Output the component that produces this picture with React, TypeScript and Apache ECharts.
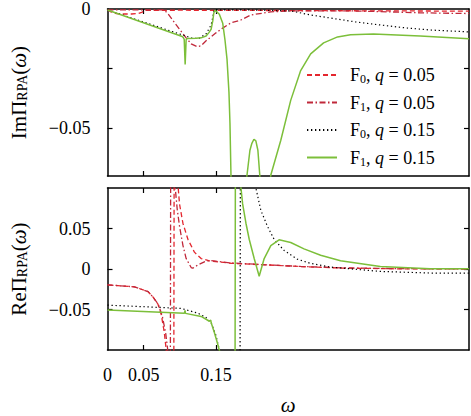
import { useEffect, useRef } from 'react';
import * as echarts from 'echarts';

const FONT = '"Liberation Serif", "DejaVu Serif", serif';

// axis ranges and tick values
const xMin = 0;
const xMax = 0.5;
const xTickValues = [0.05, 0.15];
const xLabelValues = [0, 0.05, 0.15];
const imMin = -0.07;
const imMax = 0;
const imTickValues = [-0.025, -0.05];
const imLabelValues = [0, -0.05];
const reMin = -0.1;
const reMax = 0.1;
const reTickValues = [0.05, 0, -0.05];
const reLabelValues = [0.05, 0, -0.05];

// legend entries: [F index, q]
const seriesNames = ['F0q005', 'F1q005', 'F0q015', 'F1q015'];
const seriesF = ['0', '1', '0', '1'];
const seriesQ = ['0.05', '0.05', '0.15', '0.15'];

// Im Pi_RPA(omega)
const imF0q005 = [
  [0, -0.0004], [0.0055, -0.0013], [0.0124, -0.0019], [0.0193, -0.0021], [0.0331, -0.0021],
  [0.0427, -0.0019], [0.0482, -0.0013], [0.051, -0.0006], [0.1, -0.0005], [0.2, -0.0006],
  [0.3, -0.0007], [0.4, -0.0008], [0.5, -0.0009],
];
const imF1q005 = [
  [0, -0.0004], [0.0785, -0.0004], [0.084, -0.0021], [0.0909, -0.005], [0.0992, -0.0083],
  [0.1088, -0.0121], [0.1157, -0.0146], [0.124, -0.0158], [0.1295, -0.0154], [0.1364, -0.0133],
  [0.1433, -0.0117], [0.1501, -0.01], [0.1598, -0.0079], [0.1708, -0.0058], [0.1846, -0.0046],
  [0.1983, -0.0025], [0.2259, -0.0012], [0.2534, -0.0008], [0.3361, -0.0008], [0.3774, -0.0011],
  [0.4325, -0.0016], [0.5, -0.0019],
];
const imF0q015 = [
  [0, -0.0004], [0.1157, -0.0121], [0.1185, -0.0123], [0.1267, -0.0123], [0.1364, -0.0104],
  [0.1433, -0.0067], [0.146, -0.0029], [0.1474, -0.0004], [0.1983, -0.0004], [0.2534, -0.0008],
  [0.281, -0.0025], [0.3085, -0.0038], [0.343, -0.0054], [0.3774, -0.0067], [0.4118, -0.0079],
  [0.4463, -0.0088], [0.5, -0.0096],
];
const imF1q015 = [
  [0, -0.0004], [0.1033, -0.0115], [0.1047, -0.0119], [0.1061, -0.0127], [0.1074, -0.0233],
  [0.1088, -0.0128], [0.1102, -0.0124], [0.1226, -0.0123], [0.1295, -0.0121], [0.1364, -0.0113],
  [0.1405, -0.0098], [0.1433, -0.0085], [0.1456, -0.005], [0.147, -0.0017], [0.1488, -0.0005],
  [0.1547, -0.0022], [0.1594, -0.006], [0.1625, -0.013], [0.1653, -0.021], [0.168, -0.035],
  [0.1694, -0.048], [0.1708, -0.07], [0.1763, -0.1], [0.1873, -0.1], [0.1928, -0.07],
  [0.197, -0.0592], [0.1997, -0.0563], [0.2025, -0.0546], [0.2052, -0.0553], [0.208, -0.0592],
  [0.2107, -0.07], [0.2176, -0.1], [0.2259, -0.0696], [0.2397, -0.055], [0.2534, -0.0383],
  [0.2672, -0.0258], [0.281, -0.0188], [0.2989, -0.0142], [0.3182, -0.0117], [0.3361, -0.0108],
  [0.3678, -0.0105], [0.4325, -0.0113], [0.5, -0.0125],
];

// Re Pi_RPA(omega)
const reF0q005 = [
  [0, -0.0196], [0.0372, -0.022], [0.0561, -0.028], [0.0634, -0.0351], [0.0698, -0.0435],
  [0.0744, -0.0565], [0.0785, -0.078], [0.0813, -0.1006], [0.0826, -0.2], [0.0916, -0.2],
  [0.0923, 0.2], [0.0964, 0.2], [0.0978, 0.1], [0.0996, 0.0804], [0.1043, 0.0565],
  [0.1112, 0.0367], [0.1202, 0.0208], [0.1295, 0.0129], [0.1409, 0.0101], [0.1708, 0.0071],
  [0.2121, 0.0054], [0.2672, 0.003], [0.3223, 0.0012], [0.405, 0.0002], [0.5, 0.0],
];
const reF1q005 = [
  [0, -0.0196], [0.0372, -0.022], [0.0561, -0.028], [0.0634, -0.0351], [0.0702, -0.0435],
  [0.0758, -0.058], [0.0806, -0.08], [0.0834, -0.1006], [0.0847, -0.2], [0.0868, -0.2],
  [0.0875, 0.2], [0.093, 0.2], [0.0937, 0.1], [0.0964, 0.074], [0.0996, 0.053],
  [0.1043, 0.0292], [0.1088, 0.0129], [0.1157, 0.0018], [0.118, 0.001], [0.1249, 0.005],
  [0.134, 0.0089], [0.1409, 0.0105], [0.1708, 0.0075], [0.2121, 0.0055], [0.2672, 0.0032],
  [0.3223, 0.0014], [0.405, 0.0004], [0.5, 0.0002],
];
const reF0q015 = [
  [0, -0.0446], [0.1019, -0.0486], [0.1249, -0.0545], [0.1364, -0.06], [0.1433, -0.0664],
  [0.1501, -0.0824], [0.1547, -0.1002], [0.157, -0.116], [0.1639, -0.2], [0.1832, -0.2],
  [0.1839, 0.2], [0.2039, 0.2], [0.2052, 0.1], [0.2121, 0.0724], [0.2213, 0.0526],
  [0.2304, 0.0367], [0.2442, 0.0229], [0.2627, 0.0121], [0.281, 0.0069], [0.3085, 0.0024],
  [0.3774, -0.003], [0.4463, -0.005], [0.5, -0.005],
];
const reF1q015 = [
  [0, -0.0506], [0.1065, -0.0545], [0.1072, -0.051], [0.1079, -0.0548], [0.1295, -0.0586],
  [0.1409, -0.0645], [0.1428, -0.063], [0.1435, -0.0667], [0.1478, -0.0783], [0.1515, -0.0899],
  [0.1547, -0.1002], [0.157, -0.11], [0.1653, -0.2], [0.1763, -0.2], [0.177, 0.2],
  [0.1839, 0.2], [0.1846, 0.1], [0.1869, 0.0804], [0.1915, 0.0565], [0.196, 0.0367],
  [0.2029, 0.0129], [0.2098, -0.0089], [0.2167, 0.0129], [0.2259, 0.0288], [0.2373, 0.036],
  [0.2534, 0.0327], [0.2718, 0.0248], [0.2948, 0.0169], [0.3223, 0.0101], [0.3774, 0.003],
  [0.4463, 0.0004], [0.5, 0.0002],
];

const imData = [imF0q005, imF1q005, imF0q015, imF1q015];
const reData = [reF0q005, reF1q005, reF0q015, reF1q015];

const lineStyles = [
  { color: '#e4262e', width: 1.3, type: [5, 3] },
  { color: '#c0283a', width: 1.3, type: [6, 2.5, 1.5, 2.5] },
  { color: '#000000', width: 1.2, type: [1.3, 2.7] },
  { color: '#7cbf3a', width: 1.5, type: 'solid' },
];

const fmt = (v: number) => (v === 0 ? '0' : (v < 0 ? '\u2212' : '') + String(Math.abs(v)));

const baseText = { fontFamily: FONT, color: '#000' };

function xAxis(gridIndex: number, position: 'top' | 'bottom', labels: boolean, name?: string) {
  return {
    type: 'value',
    gridIndex,
    position,
    min: xMin,
    max: xMax,
    name,
    nameLocation: 'middle',
    nameGap: 44,
    nameTextStyle: { ...baseText, fontSize: 21, fontStyle: 'italic' },
    axisLine: { show: true, onZero: false, lineStyle: { color: '#000', width: 1.5 } },
    axisTick: { show: true, inside: true, length: 5, customValues: xTickValues, lineStyle: { color: '#000', width: 1.2 } },
    axisLabel: { show: labels, customValues: xLabelValues, formatter: fmt, margin: 16, ...baseText, fontSize: 18 },
    splitLine: { show: false },
  };
}

function yAxis(gridIndex: number, position: 'left' | 'right', min: number, max: number, ticks: number[], labels: number[] | null, name?: string) {
  return {
    type: 'value',
    gridIndex,
    position,
    min,
    max,
    name,
    nameLocation: 'middle',
    nameRotate: 90,
    nameGap: 78,
    nameTextStyle: {
      ...baseText,
      fontSize: 21,
      rich: {
        n: { fontFamily: FONT, fontSize: 21, color: '#000' },
        s: { fontFamily: FONT, fontSize: 14, color: '#000', padding: [8, 0, 0, 0] },
        i: { fontFamily: FONT, fontSize: 21, fontStyle: 'italic', color: '#000' },
      },
    },
    axisLine: { show: true, onZero: false, lineStyle: { color: '#000', width: 1.5 } },
    axisTick: { show: true, inside: true, length: 5, customValues: ticks, lineStyle: { color: '#000', width: 1.2 } },
    axisLabel: { show: !!labels, customValues: labels || [], formatter: fmt, margin: 17, ...baseText, fontSize: 18 },
    splitLine: { show: false },
  };
}

export default function App() {
  const ref = useRef<HTMLDivElement>(null);
  useEffect(() => {
    if (!ref.current) return;
    const chart = echarts.init(ref.current, null, { renderer: 'svg' });
    const series: any[] = [];
    seriesNames.forEach((nm, k) => {
      series.push({
        type: 'line', name: nm, xAxisIndex: 0, yAxisIndex: 0, data: imData[k],
        showSymbol: false, symbol: 'none', lineStyle: lineStyles[k], itemStyle: { color: lineStyles[k].color },
        clip: true, z: k === 3 ? 3 : 2,
      });
    });
    seriesNames.forEach((nm, k) => {
      series.push({
        type: 'line', name: nm, xAxisIndex: 2, yAxisIndex: 2, data: reData[k],
        showSymbol: false, symbol: 'none', lineStyle: lineStyles[k], itemStyle: { color: lineStyles[k].color },
        clip: true, z: k === 3 ? 3 : 2,
      });
    });
    const option: any = {
      animation: false,
      backgroundColor: '#ffffff',
      grid: [
        { left: 106, top: 8, width: 363, height: 168 },
        { left: 106, top: 188, width: 363, height: 169 },
      ],
      xAxis: [
        xAxis(0, 'bottom', false),
        xAxis(0, 'top', false),
        xAxis(1, 'bottom', true, '\u03c9'),
        xAxis(1, 'top', false),
      ],
      yAxis: [
        yAxis(0, 'left', imMin, imMax, imTickValues, imLabelValues, '{n|Im\u03a0}{s|RPA}{n|(}{i|\u03c9}{n|)}'),
        yAxis(0, 'right', imMin, imMax, imTickValues, null),
        yAxis(1, 'left', reMin, reMax, reTickValues, reLabelValues, '{n|Re\u03a0}{s|RPA}{n|(}{i|\u03c9}{n|)}'),
        yAxis(1, 'right', reMin, reMax, reTickValues, null),
      ],
      legend: {
        show: true,
        orient: 'vertical',
        left: 306,
        top: 66,
        padding: 0,
        itemWidth: 30,
        itemHeight: 14,
        itemGap: 8.5,
        data: seriesNames,
        selectedMode: false,
        itemStyle: { opacity: 0, borderWidth: 0 },
        formatter: (name: string) => {
          const k = seriesNames.indexOf(name);
          return `{g|}{n|F}{s|${seriesF[k]}}{n|, }{i|q}{n| = ${seriesQ[k]}}`;
        },
        textStyle: {
          ...baseText,
          fontSize: 18,
          rich: {
            g: { width: 8 },
            n: { fontFamily: FONT, fontSize: 18, color: '#000', lineHeight: 20 },
            s: { fontFamily: FONT, fontSize: 12, color: '#000', verticalAlign: 'bottom', lineHeight: 12, padding: [0, 0, 0, 0] },
            i: { fontFamily: FONT, fontSize: 18, fontStyle: 'italic', color: '#000', lineHeight: 20 },
          },
        },
      },
      series,
    };
    chart.setOption(option);
    return () => chart.dispose();
  }, []);
  return (
    <div
      ref={ref}
      style={{ position: 'fixed', left: 0, top: 0, width: 471, height: 416, background: '#fff' }}
    />
  );
}
